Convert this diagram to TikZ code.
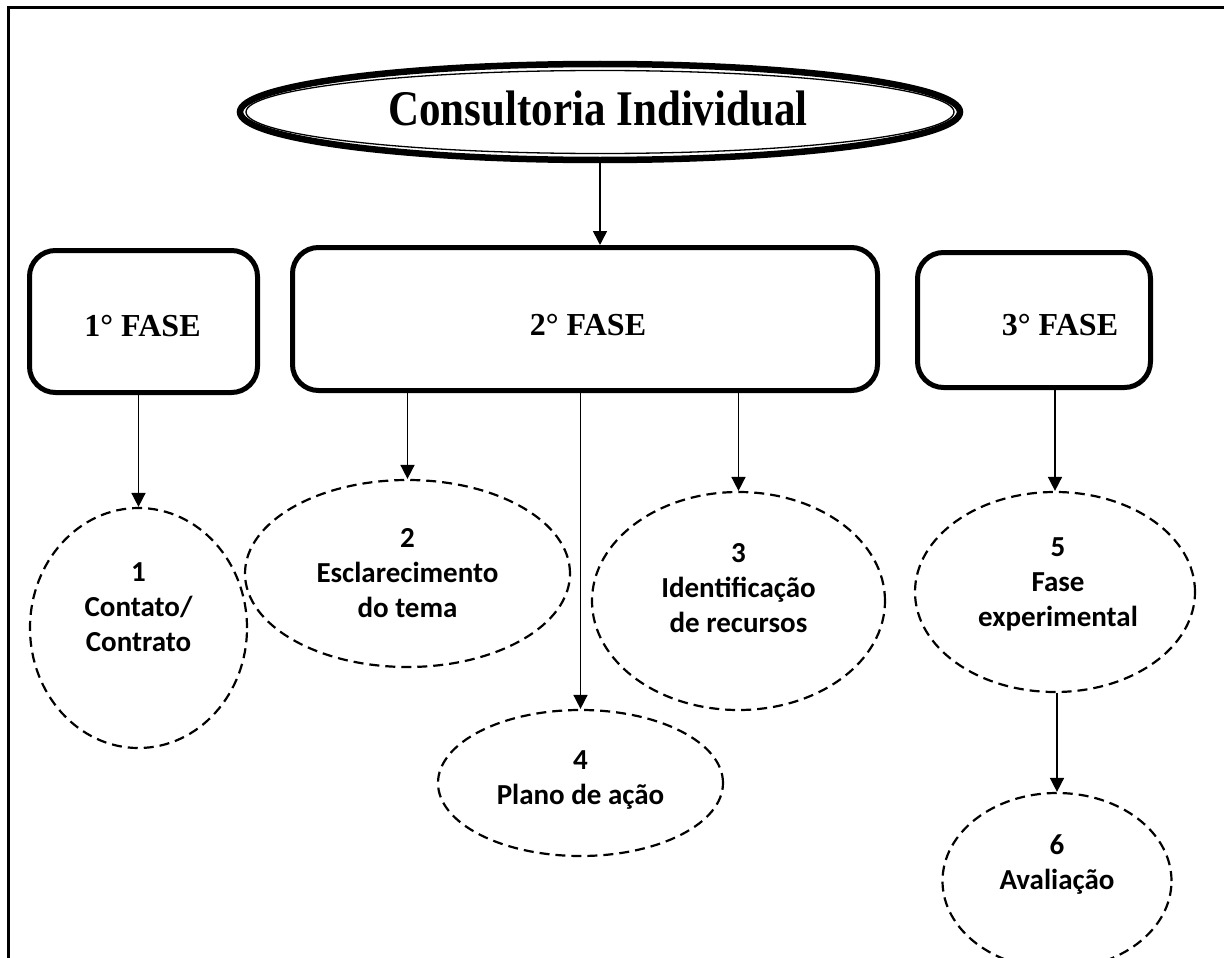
\documentclass[tikz,border=0pt]{standalone}
\usepackage{fontspec}
\setmainfont{Liberation Serif}
\newfontfamily\calib{Carlito}
\usetikzlibrary{shapes.geometric,arrows.meta}
\begin{document}
\begin{tikzpicture}[x=1pt,y=-1pt,
  phase/.style={draw, line width=5pt, rounded corners=26pt, inner sep=0pt},
  phtext/.style={font=\bfseries\fontsize{32}{38}\selectfont, inner sep=0pt},
  stage/.style={draw, ellipse, dash pattern=on 10pt off 6pt, line width=2.2pt, inner sep=0pt},
  lbl/.style={font=\calib\bfseries\fontsize{29}{35}\selectfont, align=center, inner sep=0pt},
  arr/.style={-{Triangle[length=14pt,width=14pt]}, line width=1.6pt}
]
\useasboundingbox (0,0) rectangle (1224,958);
\clip (0,0) rectangle (1224,958);
% frame
\draw[line width=3pt] (8,960) -- (8,8) -- (1226,8);
% title
\node[draw, ellipse, line width=6.5pt, minimum width=720pt, minimum height=96pt, inner sep=0pt] (top) at (600,112) {};
\draw[line width=1.3pt] (top.center) ellipse [x radius=354pt, y radius=41.5pt];
\node[font=\bfseries\fontsize{43}{48}\selectfont, inner sep=0pt] (title) at (598,108.5) {\scalebox{1}[1.16]{Consultoria Individual}};
% phases
\node[phase, minimum width=228pt, minimum height=142pt] (b1) at (143.5,321.5) {};
\node[phtext] (b1t) at (142.5,326.5) {1° FASE};
\node[phase, minimum width=585pt, minimum height=143pt] (b2) at (585,319) {};
\node[phtext] (b2t) at (588,325) {2° FASE};
\node[phase, minimum width=233pt, minimum height=135pt] (b3) at (1034,320) {};
\node[phtext] (b3t) at (1060,325) {3° FASE};
% stages
\node[stage, minimum width=217pt, minimum height=240pt] (e1) at (138.5,628) {};
\node[lbl] (t1) at (138.5,607) {1\\Contato/\\Contrato};
\node[stage, minimum width=325pt, minimum height=187pt] (e2) at (407.5,573.5) {};
\node[lbl] (t2) at (407.5,573) {2\\Esclarecimento\\do tema};
\node[stage, minimum width=293pt, minimum height=218pt] (e3) at (738.5,601) {};
\node[lbl] (t3) at (738.5,588) {3\\Identificação\\de recursos};
\node[stage, minimum width=285pt, minimum height=146pt] (e4) at (580.5,783) {};
\node[lbl] (t4) at (580.5,780) {4\\Plano de ação};
\node[stage, minimum width=280pt, minimum height=200pt] (e5) at (1055,592) {};
\node[lbl] (t5) at (1058,584) {5\\Fase\\experimental};
\node[stage, minimum width=229pt, minimum height=176pt] (e6) at (1057,881) {};
\node[lbl] (t6) at (1057,865) {6\\Avaliação};
% connectors
\draw[arr] (top.south) -- (top.south |- b2.north);
\draw[arr] (b1.south -| e1.north) -- (e1.north);
\draw[arr] (b2.south -| e2.north) -- (e2.north);
\draw[arr] (b2.south -| e4.north) -- (e4.north);
\draw[arr] (b2.south -| e3.north) -- (e3.north);
\draw[arr] (b3.south -| e5.north) -- (e5.north);
\draw[arr] (e5.south -| e6.north) -- (e6.north);
\end{tikzpicture}
\end{document}
